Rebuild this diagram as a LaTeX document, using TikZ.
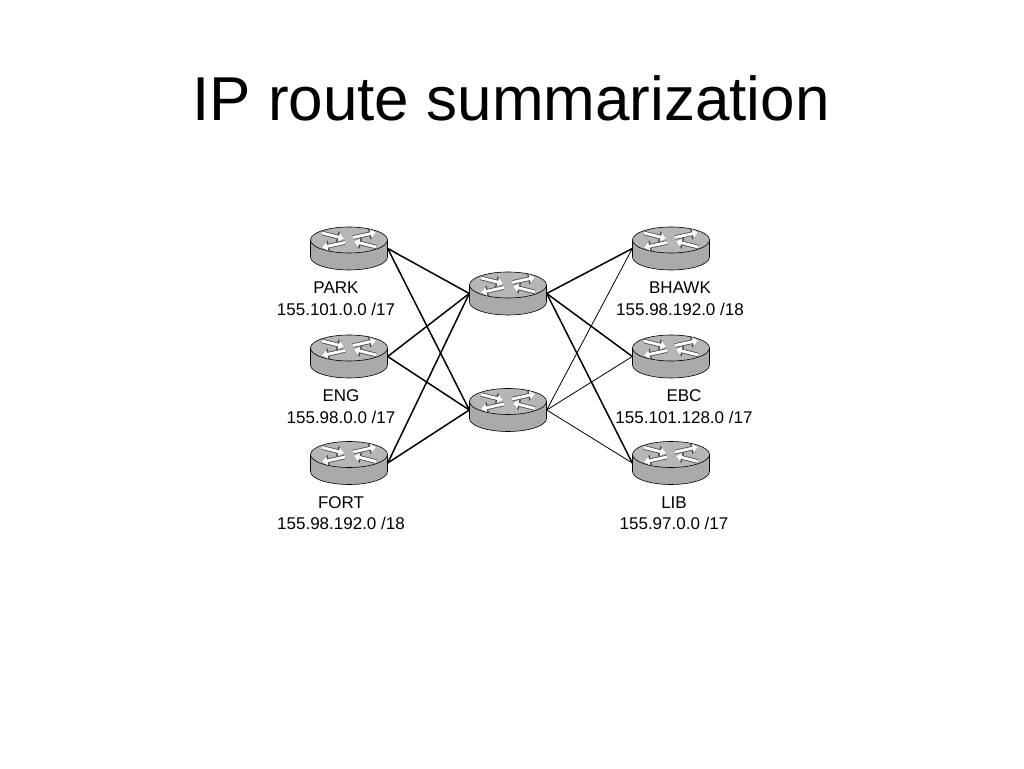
\documentclass[tikz,border=0pt]{standalone}
\usepackage{fontspec}
\setmainfont{Liberation Sans}
\usetikzlibrary{positioning,arrows.meta}
\definecolor{routertop}{RGB}{182,182,182}
\definecolor{routerside}{RGB}{170,170,170}
\tikzset{
  router/.style={minimum width=80pt, minimum height=46pt, inner sep=0pt,
    path picture={
      \begin{scope}[shift={(path picture bounding box.center)}]
        \filldraw[fill=routerside, draw=black, line width=0.6pt] (-38.5pt,8.5pt) -- (-38.5pt,-8.5pt)
          arc[start angle=180, end angle=360, x radius=38.5pt, y radius=13pt] -- (38.5pt,8.5pt) -- cycle;
        \filldraw[fill=routertop, draw=black, line width=0.6pt] (0pt,8.5pt) ellipse [x radius=38.5pt, y radius=13pt];
        \foreach \sx/\sy/\ex/\ey in {-27/15.5/-5/10, 27/1.5/5/7, 4/11/27/16, -4/6/-27/1} {
          \draw[black!70, line width=4.4pt, -{Triangle[length=7pt,width=11pt]}] (\sx pt,\sy pt) -- (\ex pt,\ey pt);
          \draw[white, line width=2.8pt, -{Triangle[length=5.4pt,width=8.4pt]}] (\sx pt,\sy pt) -- (\ex pt,\ey pt);
        }
      \end{scope}}},
  netlbl/.style={font=\fontsize{17}{21.5}\selectfont, align=center, inner sep=0pt},
  link/.style={line width=1.5pt},
  thinlink/.style={line width=0.8pt}
}
\begin{document}
\begin{tikzpicture}[x=1pt, y=1pt]
  \useasboundingbox[fill=white] (0,0) rectangle (1024,768);
  \node[font=\fontsize{62}{74}\selectfont, anchor=base] (title) at (511,647) {IP route summarization};

  % routers
  \node[router] (park) at (349,519.5) {};
  \node[router] (eng) at (349,411.5) {};
  \node[router] (fort) at (349,305) {};
  \node[router] (hubup) at (508,474.5) {};
  \node[router] (hublow) at (508,358) {};
  \node[router] (bhawk) at (671,519.5) {};
  \node[router] (ebc) at (671,411.5) {};
  \node[router] (lib) at (671,305) {};

  % networks
  \node[netlbl, below=10pt of park, xshift=-13pt] (parklbl) {PARK\\155.101.0.0 /17};
  \node[netlbl, below=10pt of eng, xshift=-8pt] (englbl) {ENG\\155.98.0.0 /17};
  \node[netlbl, below=10pt of fort, xshift=-8pt] (fortlbl) {FORT\\155.98.192.0 /18};
  \node[netlbl, below=10pt of bhawk, xshift=9pt] (bhawklbl) {BHAWK\\155.98.192.0 /18};
  \node[netlbl, below=10pt of ebc, xshift=13pt] (ebclbl) {EBC\\155.101.128.0 /17};
  \node[netlbl, below=10pt of lib, xshift=3pt] (liblbl) {LIB\\155.97.0.0 /17};

  % links
  \foreach \s in {park,eng,fort} {
    \draw[link] ([xshift=-1.5pt]\s.east) -- ([xshift=1.5pt]hubup.west);
    \draw[link] ([xshift=-1.5pt]\s.east) -- ([xshift=1.5pt]hublow.west);
  }
  \foreach \t in {bhawk,ebc,lib} {
    \draw[link] ([xshift=-1.5pt]hubup.east) -- ([xshift=1.5pt]\t.west);
    \draw[thinlink] ([xshift=-1.5pt]hublow.east) -- ([xshift=1.5pt]\t.west);
  }
\end{tikzpicture}
\end{document}
